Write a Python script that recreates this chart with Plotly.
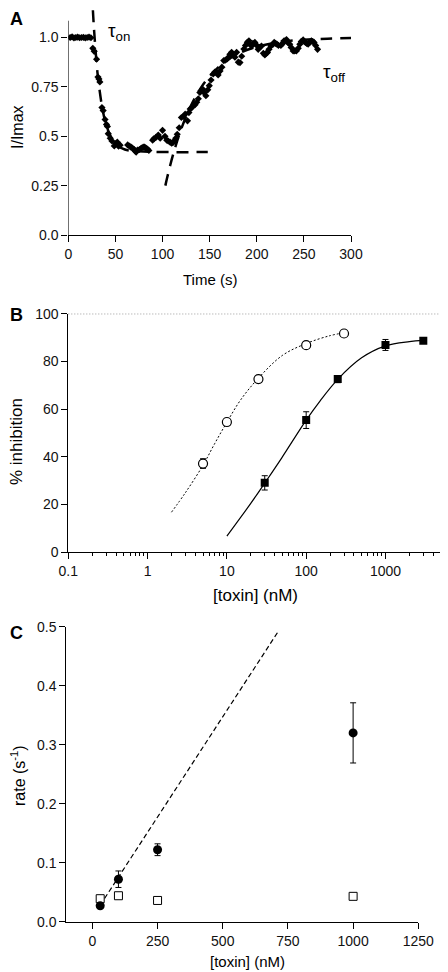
import plotly.graph_objects as go

# page viewport is 448x972; the html body adds an 8px margin, so the figure is 440x964
PAGE_W, PAGE_H = 448, 972
OFF = 8
W, H = PAGE_W - OFF, PAGE_H - OFF

# ---------------- Panel A : time course ----------------
time_s = [2, 4, 6, 8, 10, 12, 14, 16, 18, 20, 22, 24,
          26, 27.5, 30, 31.5, 32.5, 33.5, 35.7, 37, 39, 40.5, 41.5, 42.4, 44.5, 46.3, 48.8, 50.5, 52, 53.3, 55,
          63, 65, 66.5, 68, 70, 71, 72, 73.5, 75.5, 77.5, 79.5, 81, 82.3, 84, 85.5,
          89.5, 91, 93, 95.5, 97.5, 100, 102.6, 104.5, 106, 108, 109.6, 111, 112.5, 114, 115.6, 117.7,
          120, 122, 124, 126.5, 128, 129.3, 131, 132.8, 134.5, 136.3, 138, 139.6, 141, 142.5, 144.3, 146, 148,
          149.6, 151.5, 153.8, 155.5, 157.4, 159, 161, 163, 165, 166.5, 168.5, 170, 171.5, 173.3, 175, 176.8,
          178.6, 180.4, 182.2, 184, 186.3, 188, 190, 191.7, 193, 194.5, 196, 198, 200, 201.5, 203, 205,
          207, 208.6, 210, 211.4, 213, 215, 217, 218.5, 220, 221.5, 223, 225.6, 227.5, 229, 231.5, 233,
          235, 236.5, 238.6, 240.3, 242, 244, 245.7, 247.2, 249.2, 250.5, 251.7, 253, 254.5, 256, 258,
          259.5, 260.8, 262.5, 264.5]
i_imax = [1.0, 1.003, 0.998, 1.0, 1.002, 0.999, 1.0, 1.001, 0.998, 1.0, 1.002, 0.999,
          0.945, 0.93, 0.89, 0.80, 0.79, 0.775, 0.645, 0.63, 0.585, 0.56, 0.55, 0.513, 0.49, 0.476, 0.451, 0.463, 0.47, 0.45, 0.455,
          0.456, 0.45, 0.445, 0.44, 0.433, 0.425, 0.42, 0.43, 0.433, 0.44, 0.445, 0.445, 0.44, 0.435, 0.428,
          0.48, 0.488, 0.494, 0.506, 0.49, 0.53, 0.50, 0.48, 0.476, 0.47, 0.465, 0.468, 0.476, 0.49, 0.51, 0.543,
          0.595, 0.60, 0.612, 0.578, 0.62, 0.638, 0.645, 0.655, 0.66, 0.672, 0.69, 0.722, 0.73, 0.739, 0.72, 0.705, 0.735,
          0.756, 0.785, 0.815, 0.825, 0.823, 0.81, 0.83, 0.85, 0.883, 0.885, 0.891, 0.90, 0.915, 0.925, 0.91, 0.90,
          0.925, 0.875, 0.873, 0.905, 0.942, 0.96, 0.976, 0.983, 0.965, 0.957, 0.97, 0.975, 0.96, 0.94, 0.95, 0.957,
          0.92, 0.912, 0.92, 0.924, 0.94, 0.957, 0.965, 0.975, 0.97, 0.966, 0.96, 0.96, 0.97, 0.983, 0.99, 0.975,
          0.966, 0.95, 0.932, 0.932, 0.932, 0.945, 0.966, 0.98, 0.988, 0.98, 0.975, 0.97, 0.966, 0.975, 0.983,
          0.98, 0.975, 0.96, 0.94]

on_fit_t = [25, 26.5, 27.5, 29, 31, 33, 36, 40, 45, 50, 60, 75, 100, 148]
on_fit_y = [1.24, 1.104, 1.028, 0.93, 0.82, 0.74, 0.645, 0.56, 0.50, 0.463, 0.433, 0.424, 0.42, 0.42]
off_fit_t = [103, 105, 108, 112, 120, 130, 140, 150, 165, 180, 200, 225, 250, 275, 300]
off_fit_y = [0.25, 0.292, 0.35, 0.42, 0.539, 0.653, 0.74, 0.804, 0.872, 0.917, 0.953, 0.977, 0.989, 0.994, 0.997]

a_xticks = [0, 50, 100, 150, 200, 250, 300]
a_yticks = [0, 0.25, 0.5, 0.75, 1.0]
a_yticklabels = ["0.0", "0.25", "0.5", "0.75", "1.0"]

# ---------------- Panel B : dose response ----------------
conc_open = [5, 10, 25, 100, 300]
inh_open = [37.2, 54.6, 72.6, 86.8, 91.7]
inh_open_err = [2.0, 1.0, 1.0, 1.0, 0.8]
conc_filled = [30, 100, 250, 1000, 3000]
inh_filled = [29.1, 55.4, 72.6, 86.9, 88.7]
inh_filled_err = [3.0, 3.5, 1.5, 2.3, 1.0]

fit_open_x = [2, 3, 5, 7, 10, 15, 25, 50, 100, 200, 300]
fit_open_y = [16.8, 25.0, 36.5, 45.5, 54.5, 64.0, 73.0, 82.5, 87.5, 90.8, 92.0]
fit_filled_x = [10, 20, 30, 49, 100, 150, 250, 500, 1000, 2000, 3000]
fit_filled_y = [6.8, 20.5, 29.0, 39.5, 55.4, 63.5, 72.5, 81.5, 86.5, 88.3, 88.8]

b_xticks = [0.1, 1, 10, 100, 1000]
b_xticklabels = ["0.1", "1", "10", "100", "1000"]
b_minor = [k * 10.0 ** e for e in range(-1, 4) for k in range(2, 10) if k * 10.0 ** e < 5100]
b_yticks = [0, 20, 40, 60, 80, 100]

# ---------------- Panel C : rates ----------------
conc_c = [30, 100, 250, 1000]
rate_on = [0.027, 0.072, 0.122, 0.320]
rate_on_err = [0.004, 0.014, 0.010, 0.051]
rate_off = [0.039, 0.044, 0.036, 0.043]
lin_fit_x = [30, 710]
lin_fit_y = [0.028, 0.49]

c_xticks = [0, 250, 500, 750, 1000, 1250]
c_yticks = [0, 0.1, 0.2, 0.3, 0.4, 0.5]
c_yticklabels = ["0.0", "0.1", "0.2", "0.3", "0.4", "0.5"]

FONT = "Arial, Liberation Sans, Helvetica, sans-serif"
BLACK = "#000000"

fig = go.Figure()

# ---- A traces
fig.add_trace(go.Scatter(x=on_fit_t, y=on_fit_y, mode="lines", line=dict(color=BLACK, width=2.5, dash="12px,8px", shape="spline"),
                         xaxis="x", yaxis="y", hoverinfo="skip"))
fig.add_trace(go.Scatter(x=off_fit_t, y=off_fit_y, mode="lines", line=dict(color=BLACK, width=2.5, dash="12px,8px", shape="spline"),
                         xaxis="x", yaxis="y", hoverinfo="skip"))
fig.add_trace(go.Scatter(x=time_s, y=i_imax, mode="markers", marker=dict(symbol="diamond", size=5.5, color=BLACK),
                         xaxis="x", yaxis="y"))

# ---- B traces
fig.add_trace(go.Scatter(x=fit_open_x, y=fit_open_y, mode="lines", line=dict(color=BLACK, width=1, dash="2px,2px", shape="spline"),
                         xaxis="x2", yaxis="y2", hoverinfo="skip"))
fig.add_trace(go.Scatter(x=fit_filled_x, y=fit_filled_y, mode="lines", line=dict(color=BLACK, width=1.2, shape="spline"),
                         xaxis="x2", yaxis="y2", hoverinfo="skip"))
fig.add_trace(go.Scatter(x=conc_open, y=inh_open, mode="markers",
                         error_y=dict(type="data", array=inh_open_err, color=BLACK, thickness=1, width=3),
                         marker=dict(symbol="circle", size=9, color="white", line=dict(width=1.2, color=BLACK)),
                         xaxis="x2", yaxis="y2"))
fig.add_trace(go.Scatter(x=conc_filled, y=inh_filled, mode="markers",
                         error_y=dict(type="data", array=inh_filled_err, color=BLACK, thickness=1, width=3),
                         marker=dict(symbol="square", size=8, color=BLACK),
                         xaxis="x2", yaxis="y2"))

# ---- C traces
fig.add_trace(go.Scatter(x=lin_fit_x, y=lin_fit_y, mode="lines", line=dict(color=BLACK, width=1.2, dash="5px,3px"),
                         xaxis="x3", yaxis="y3", hoverinfo="skip"))
fig.add_trace(go.Scatter(x=conc_c, y=rate_off, mode="markers",
                         marker=dict(symbol="square", size=8, color="white", line=dict(width=1, color=BLACK)),
                         xaxis="x3", yaxis="y3"))
fig.add_trace(go.Scatter(x=conc_c, y=rate_on, mode="markers",
                         error_y=dict(type="data", array=rate_on_err, color=BLACK, thickness=1, width=3),
                         marker=dict(symbol="circle", size=9, color=BLACK),
                         xaxis="x3", yaxis="y3"))

tickfont = dict(family=FONT, size=14, color="#111111")
common = dict(showgrid=False, zeroline=False, ticks="outside", ticklen=6, tickwidth=1, tickcolor=BLACK,
              linecolor=BLACK, linewidth=1, tickfont=tickfont, automargin=False)


def px_x(p):
    """page pixel -> paper fraction"""
    return (p - OFF) / W


def px_y(p):
    return 1 - (p - OFF) / H


fig.update_layout(
    width=W, height=H, margin=dict(l=0, r=0, t=0, b=0, pad=0), autosize=False,
    paper_bgcolor="white", plot_bgcolor="rgba(0,0,0,0)", showlegend=False,
    font=dict(family=FONT, color=BLACK),
    xaxis=dict(domain=[px_x(68.3), px_x(351)], range=[0, 300], tickvals=a_xticks, showline=True,
               anchor="y", **common),
    yaxis=dict(domain=[px_y(235), px_y(OFF)], range=[0, 1.185 - 7 / 196.7], tickvals=a_yticks,
               ticktext=a_yticklabels, showline=False, anchor="x", **common),
    xaxis2=dict(domain=[px_x(68.3), px_x(441.7)], type="log", range=[-1, 3.709], tickvals=b_xticks,
                ticktext=b_xticklabels, showline=True, anchor="y2",
                minor=dict(tickvals=b_minor, ticks="outside", ticklen=3, tickcolor=BLACK, showgrid=False),
                **common),
    yaxis2=dict(domain=[px_y(552.3), px_y(313.7)], range=[0, 100], tickvals=b_yticks, showline=True,
                anchor="x2", **common),
    xaxis3=dict(domain=[px_x(66.3), px_x(418.3)], range=[-100, 1250], tickvals=c_xticks, showline=True,
                anchor="y3", **common),
    yaxis3=dict(domain=[px_y(921.7), px_y(626.7)], range=[0, 0.5], tickvals=c_yticks, ticktext=c_yticklabels,
                showline=True, anchor="x3", **common),
)

# A y-axis line stops below the top of the plotting area
fig.add_shape(type="line", xref="x", yref="y", x0=0, x1=0, y0=0, y1=1.085, line=dict(color=BLACK, width=1))
# B 100% reference line
fig.add_shape(type="line", xref="paper", yref="y2", x0=px_x(68.3), x1=1.0, y0=100, y1=100,
              line=dict(color=BLACK, width=1, dash="1px,2px"))


def ann(text, x, y, size, angle=0, bold=False, xanchor="center"):
    fig.add_annotation(text=f"<b>{text}</b>" if bold else text, xref="paper", yref="paper",
                       x=px_x(x), y=px_y(y), showarrow=False, textangle=angle,
                       font=dict(family=FONT, size=size, color=BLACK), xanchor=xanchor, yanchor="middle")


ann("A", OFF, 19, 18, bold=True, xanchor="left")
ann("B", OFF, 315, 18, bold=True, xanchor="left")
ann("C", OFF, 633, 18, bold=True, xanchor="left")

ann("Time (s)", 210, 279.5, 15)
ann("I/Imax", 17, 127, 16, angle=-90)
ann("[toxin] (nM)", 255, 595, 17)
ann("% inhibition", 17, 442, 17, angle=-90)
ann("[toxin] (nM)", 247, 961, 15)
ann("rate (s<sup>-1</sup>)", 18, 776, 16, angle=-90)

ann("τ<sub>on</sub>", 119, 32, 19)
ann("τ<sub>off</sub>", 334, 73, 19)

fig.write_html("out.html")
